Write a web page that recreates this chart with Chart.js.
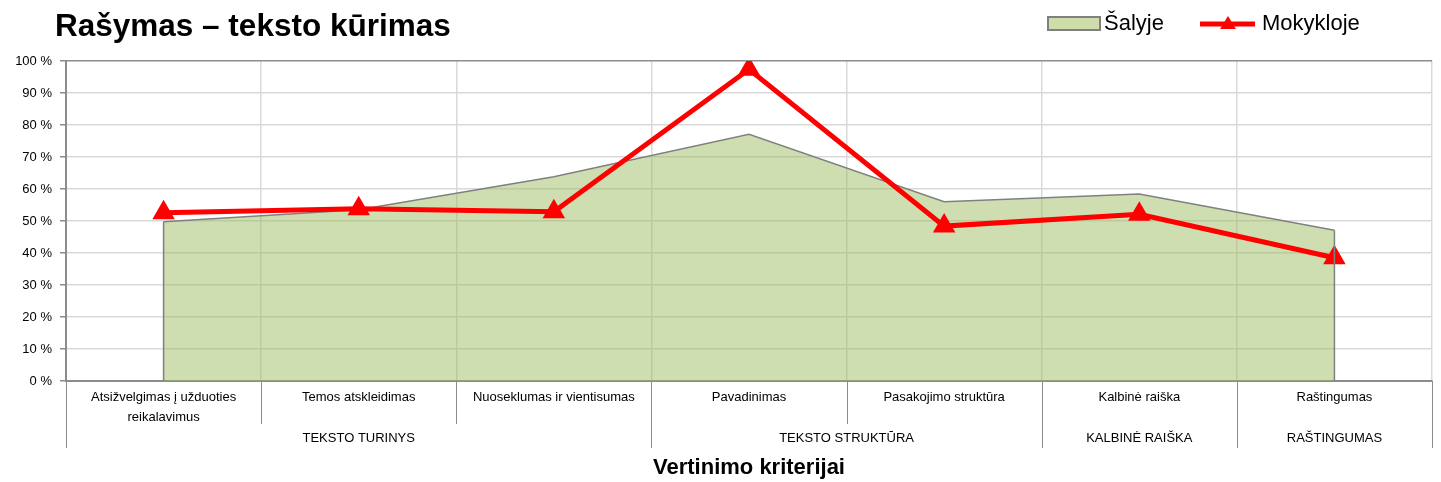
<!DOCTYPE html>
<html>
<head>
<meta charset="utf-8">
<script src="https://cdn.jsdelivr.net/npm/chart.js@4/dist/chart.umd.min.js"></script>
<style>
  html, body { margin: 0; padding: 0; background: #fff; }
  #wrap { width: 1441px; height: 482px; position: relative; }
</style>
</head>
<body>
<div id="wrap"><canvas id="chart-rasymas"></canvas></div>
<script>
var kriterijai = [
    ['Atsižvelgimas į užduoties', 'reikalavimus'],
    'Temos atskleidimas',
    'Nuoseklumas ir vientisumas',
    'Pavadinimas',
    'Pasakojimo struktūra',
    'Kalbinė raiška',
    'Raštingumas'
];
var grupes = ['TEKSTO TURINYS', 'TEKSTO STRUKTŪRA', 'KALBINĖ RAIŠKA', 'RAŠTINGUMAS'];
var grupiuDydziai = [3, 2, 1, 1];
var salyje = [49.8, 53.5, 63.8, 77.1, 56.0, 58.4, 47.1];
var mokykloje = [52.6, 53.8, 52.9, 97.4, 48.4, 52.1, 38.5];

var sansFont = '"Liberation Sans", Arial, sans-serif';

// antraštė, legenda, grupių eilutė ir ašies pavadinimas
var papildomai = {
    id: 'papildomai',
    afterDraw: function(chart) {
        var c = chart.ctx;
        var x = chart.scales.x;
        var area = chart.chartArea;
        var w = (x.right - x.left) / kriterijai.length;

        c.save();
        // vertikalūs šonai ploto serijai
        var pts = chart.getDatasetMeta(0).data;
        var y0 = chart.scales.y.getPixelForValue(0);
        c.strokeStyle = '#808080';
        c.lineWidth = 1.5;
        c.beginPath();
        c.moveTo(pts[0].x, pts[0].y); c.lineTo(pts[0].x, y0);
        c.moveTo(pts[pts.length - 1].x, pts[pts.length - 1].y); c.lineTo(pts[pts.length - 1].x, y0);
        c.stroke();

        // skirtukai po ašimi
        var ribos = [0];
        var s = 0;
        grupiuDydziai.forEach(function(n) { s += n; ribos.push(s); });
        c.strokeStyle = '#8c8c8c';
        c.lineWidth = 1;
        for (var i = 0; i <= kriterijai.length; i++) {
            var px = Math.round(x.left + i * w) + 0.5;
            var ilgas = ribos.indexOf(i) >= 0;
            c.beginPath();
            c.moveTo(px, area.bottom);
            c.lineTo(px, ilgas ? 448 : 424);
            c.stroke();
        }

        // grupių pavadinimai
        c.fillStyle = '#000';
        c.font = '13px ' + sansFont;
        c.textAlign = 'center';
        c.textBaseline = 'middle';
        grupes.forEach(function(g, k) {
            var cx = x.left + (ribos[k] + ribos[k + 1]) / 2 * w;
            c.fillText(g, cx, 438);
        });

        // ašies pavadinimas
        c.font = 'bold 22px ' + sansFont;
        c.fillText('Vertinimo kriterijai', (area.left + area.right) / 2, 468);

        // antraštė
        c.textAlign = 'left';
        c.font = 'bold 31.5px ' + sansFont;
        c.fillText('Rašymas – teksto kūrimas', 55, 27);

        // legenda
        c.font = '22px ' + sansFont;
        c.fillStyle = '#cfddaa';
        c.fillRect(1048, 17, 52, 13);
        c.strokeStyle = '#808080';
        c.lineWidth = 2;
        c.strokeRect(1048, 17, 52, 13);
        c.fillStyle = '#000';
        c.fillText('Šalyje', 1104, 24);

        c.strokeStyle = '#ff0000';
        c.lineWidth = 5;
        c.beginPath();
        c.moveTo(1200, 24); c.lineTo(1255, 24);
        c.stroke();
        c.fillStyle = '#ff0000';
        c.beginPath();
        c.moveTo(1228, 16); c.lineTo(1236, 29); c.lineTo(1220, 29);
        c.closePath();
        c.fill();
        c.fillStyle = '#000';
        c.fillText('Mokykloje', 1262, 24);
        c.restore();
    }
};

var ctx = document.getElementById('chart-rasymas').getContext('2d');

var myChart = new Chart(ctx, {
    type: 'line',
    data: {
        labels: kriterijai,
        datasets: [{
            label: 'Šalyje',
            data: salyje,
            backgroundColor: 'rgba(155, 187, 89, 0.48)',
            borderColor: '#808080',
            borderWidth: 1.5,
            fill: 'origin',
            pointRadius: 0,
            tension: 0,
            order: 2
        }, {
            label: 'Mokykloje',
            data: mokykloje,
            borderColor: '#ff0000',
            backgroundColor: '#ff0000',
            borderWidth: 5,
            pointStyle: 'triangle',
            pointRadius: 8,
            pointHoverRadius: 8,
            fill: false,
            tension: 0,
            order: 1
        }]
    },
    options: {
        responsive: true,
        maintainAspectRatio: false,
        animation: false,
        layout: { autoPadding: false, padding: { top: 61, right: 9, left: 0, bottom: 0 } },
        plugins: {
            legend: { display: false },
            title: { display: false },
            tooltip: { enabled: false }
        },
        scales: {
            x: {
                offset: true,
                grid: {
                    offset: true,
                    drawTicks: false,
                    color: function(c) { return c.index === kriterijai.length ? '#8c8c8c' : '#d9d9d9'; },
                    lineWidth: function(c) { return c.index === kriterijai.length ? 2 : 1.5; }
                },
                border: { color: '#8c8c8c', width: 2 },
                ticks: {
                    color: '#000',
                    font: { family: sansFont, size: 13, lineHeight: 1.55 },
                    padding: 6,
                    maxRotation: 0,
                    autoSkip: false
                },
                afterFit: function(scale) {
                    scale.height = 101;
                    scale.paddingLeft = 0;
                    scale.paddingRight = 0;
                }
            },
            y: {
                min: 0,
                max: 100,
                ticks: {
                    stepSize: 10,
                    color: '#000',
                    font: { family: sansFont, size: 13 },
                    padding: 8,
                    callback: function(v) { return v + ' %'; }
                },
                grid: {
                    color: function(c) { return c.tick && c.tick.value === 100 ? '#8c8c8c' : '#d9d9d9'; },
                    lineWidth: 1.5,
                    tickLength: 6,
                    tickColor: '#8c8c8c'
                },
                border: { color: '#8c8c8c', width: 2 },
                afterFit: function(scale) { scale.width = 66; }
            }
        }
    },
    plugins: [papildomai]
});
</script>
</body>
</html>
